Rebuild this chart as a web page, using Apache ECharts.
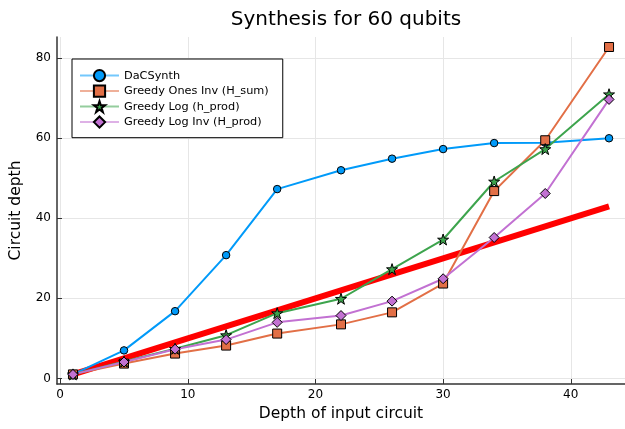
<!DOCTYPE html>
<html>
<head>
<meta charset="utf-8">
<script src="https://cdn.jsdelivr.net/npm/echarts@6/dist/echarts.min.js"></script>
<style>
  html, body { margin: 0; padding: 0; background: #fff; }
  #chart { width: 625px; height: 429px; }
</style>
</head>
<body>
<div id="chart"></div>
<script>
// depth of input circuit
const depths = [1, 5, 9, 13, 17, 22, 26, 30, 34, 38, 43]
const dacSynth = [1, 7, 16.8, 30.8, 47.3, 52, 54.9, 57.3, 58.8, 58.9, 60]
const greedyOnesInv = [1, 3.7, 6.2, 8.2, 11.2, 13.5, 16.5, 23.7, 46.8, 59.5, 82.8]
const greedyLog = [1, 4.2, 7.4, 10.8, 16.3, 19.9, 27.3, 34.7, 49.2, 57.3, 71]
const greedyLogInv = [1, 4.1, 7.3, 9.7, 14, 15.7, 19.3, 24.9, 35.2, 46.2, 69.7]
const refLine = [[1, 1], [43, 43]]
const xTicks = [0, 10, 20, 30, 40]
const yTicks = [0, 20, 40, 60, 80]

const pair = arr => depths.map((d, i) => [d, arr[i]])

const chart = echarts.init(document.getElementById('chart'))
const font = 'DejaVu Sans'

function mkSeries (name, data, color, symbol, size) {
  return {
    name: name,
    type: 'line',
    data: pair(data),
    symbol: symbol,
    symbolSize: size,
    showAllSymbol: true,
    lineStyle: { color: color, width: 2 },
    itemStyle: { color: color, borderColor: '#000', borderWidth: 1 },
    emphasis: { disabled: true },
    animation: false
  }
}

const option = {
  animation: false,
  textStyle: { fontFamily: font },
  title: {
    text: 'Synthesis for 60 qubits',
    left: 341,
    top: 5,
    textAlign: 'center',
    textStyle: { fontFamily: font, fontSize: 20, fontWeight: 'normal', color: '#000' }
  },
  grid: { left: 54, top: 37, width: 573, height: 347 },
  legend: {
    data: ['DaCSynth', 'Greedy Ones Inv (H_sum)', 'Greedy Log (h_prod)', 'Greedy Log Inv (H_prod)'],
    orient: 'vertical',
    left: 72,
    top: 59,
    padding: [10, 14, 9, 7],
    itemWidth: 39,
    itemHeight: 14,
    itemGap: 2.3,
    backgroundColor: '#fff',
    borderColor: '#000',
    borderWidth: 1,
    borderRadius: 0,
    lineStyle: { opacity: 0.55 },
    textStyle: { fontFamily: font, fontSize: 11.3, color: '#000' }
  },
  xAxis: {
    type: 'value',
    min: -0.25,
    max: 44.25,
    name: 'Depth of input circuit',
    nameLocation: 'middle',
    nameGap: 22,
    nameTextStyle: { fontFamily: font, fontSize: 15.5, color: '#000' },
    axisLine: { show: true, onZero: false, lineStyle: { color: '#333', width: 1.5 } },
    axisTick: { show: true, inside: true, length: 5, customValues: xTicks, lineStyle: { color: '#333' } },
    axisLabel: { customValues: xTicks, color: '#000', fontSize: 12, margin: 5 },
    splitLine: { show: true, lineStyle: { color: '#e6e6e6', width: 1 } }
  },
  yAxis: {
    type: 'value',
    min: -1.4,
    max: 85.3,
    name: 'Circuit depth',
    nameLocation: 'middle',
    nameGap: 33,
    nameTextStyle: { fontFamily: font, fontSize: 15.5, color: '#000' },
    axisLine: { show: true, onZero: false, lineStyle: { color: '#333', width: 1.5 } },
    axisTick: { show: true, inside: true, length: 5, customValues: yTicks, lineStyle: { color: '#333' } },
    axisLabel: { customValues: yTicks, color: '#000', fontSize: 12, margin: 6 },
    splitLine: { show: true, lineStyle: { color: '#e6e6e6', width: 1 } }
  },
  series: [
    {
      name: 'y = x',
      type: 'line',
      data: refLine,
      symbol: 'none',
      lineStyle: { color: '#ff0000', width: 6 },
      emphasis: { disabled: true },
      z: 1
    },
    mkSeries('DaCSynth', dacSynth, '#009af9', 'circle', 7.5),
    mkSeries('Greedy Ones Inv (H_sum)', greedyOnesInv, '#e26f46', 'rect', 9),
    mkSeries('Greedy Log (h_prod)', greedyLog, '#3da44d',
      'path://M50,0 L61.8,35.4 L98.8,35.4 L68.9,57.3 L80.3,92.7 L50,70.8 L19.7,92.7 L31.1,57.3 L1.2,35.4 L38.2,35.4 Z', 11),
    mkSeries('Greedy Log Inv (H_prod)', greedyLogInv, '#c271d2', 'diamond', 10)
  ]
}

chart.setOption(option)
</script>
</body>
</html>
